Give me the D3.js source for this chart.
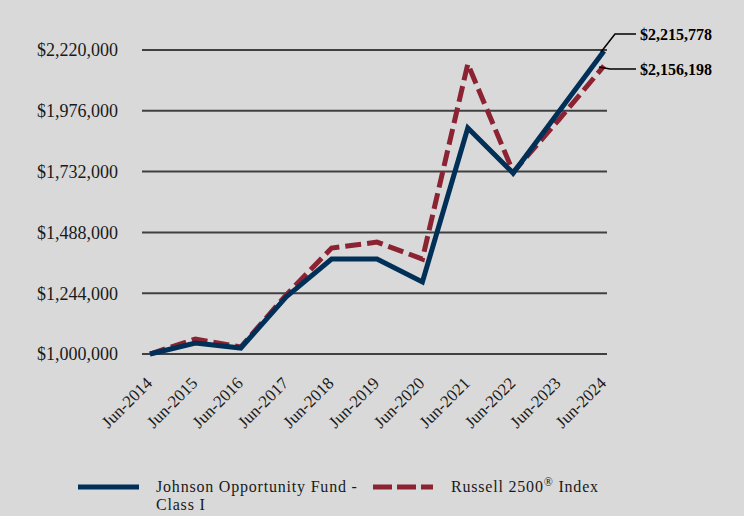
<!DOCTYPE html>
<html>
<head>
<meta charset="utf-8">
<script src="https://cdn.jsdelivr.net/npm/d3@7"></script>
<style>
  body { margin: 0; background: #d9d9d9; }
  svg { display: block; background: #d9d9d9; font-family: "Liberation Serif", "DejaVu Serif", serif; }
</style>
</head>
<body>
<svg width="744" height="516"></svg>
<script>
// data
const years = ["Jun-2014", "Jun-2015", "Jun-2016", "Jun-2017", "Jun-2018", "Jun-2019",
  "Jun-2020", "Jun-2021", "Jun-2022", "Jun-2023", "Jun-2024"];
const fund = [1000000, 1044000, 1024000, 1229000, 1381000, 1381000, 1289000, 1907000, 1726000, 1971000, 2215778];
const russell = [1000000, 1060000, 1028000, 1237000, 1425000, 1449000, 1381000, 2164000, 1730000, 1939000, 2156198];
const ticks = [1000000, 1244000, 1488000, 1732000, 1976000, 2220000];

const svg = d3.select("svg");
const margin = { left: 142, right: 137, top: 50, bottom: 162 };

const x = d3.scalePoint()
    .domain(years)
    .range([150, 604]);

const y = d3.scaleLinear()
    .domain([1000000, 2220000])
    .range([354, 50]);

const fmt = d3.format("$,");

// gridlines
svg.append("g")
    .selectAll("line")
    .data(ticks)
    .enter().append("line")
    .attr("x1", margin.left)
    .attr("x2", 607)
    .attr("y1", d => y(d))
    .attr("y2", d => y(d))
    .style("stroke", "#404040")
    .style("stroke-width", 2);

// y labels
svg.append("g")
    .selectAll("text")
    .data(ticks)
    .enter().append("text")
    .attr("x", 118)
    .attr("y", d => y(d))
    .attr("dy", "0.35em")
    .attr("text-anchor", "end")
    .style("font-size", "18px")
    .style("fill", "#1a1a1a")
    .text(d => fmt(d));

// x labels
svg.append("g")
    .selectAll("text")
    .data(years)
    .enter().append("text")
    .attr("transform", d => `translate(${x(d) - 1},${380}) rotate(-45)`)
    .attr("text-anchor", "end")
    .attr("dy", "0.35em")
    .style("font-size", "17px")
    .style("fill", "#1a1a1a")
    .text(d => d);

const line = d3.line()
    .x((d, i) => x(years[i]))
    .y(d => y(d));

svg.append("path")
    .datum(russell)
    .attr("d", line)
    .style("fill", "none")
    .style("stroke", "#8b2332")
    .style("stroke-width", 5)
    .style("stroke-dasharray", "16 6");

svg.append("path")
    .datum(fund)
    .attr("d", line)
    .style("fill", "none")
    .style("stroke", "#003057")
    .style("stroke-width", 5);

// end callouts
const lastX = x(years[years.length - 1]);
const callouts = [
    { v: fund[fund.length - 1], ly: 34, pts: [[lastX - 3, y(fund[fund.length - 1]) + 1], [615, 34], [636, 34]] },
    { v: russell[russell.length - 1], ly: 69, pts: [[lastX - 5, y(russell[russell.length - 1]) + 1], [610, 69], [636, 69]] }
];
callouts.forEach(c => {
    svg.append("path")
        .attr("d", d3.line()(c.pts))
        .style("fill", "none")
        .style("stroke", "#000")
        .style("stroke-width", 1.5);
    svg.append("text")
        .attr("x", 640)
        .attr("y", c.ly)
        .attr("dy", "0.35em")
        .style("font-size", "16px")
        .style("font-weight", "bold")
        .style("fill", "#000")
        .text(fmt(c.v));
});

// legend
const lg = svg.append("g")
    .style("font-size", "16px")
    .style("letter-spacing", "0.8px")
    .style("fill", "#1a1a1a");
lg.append("line")
    .attr("x1", 78).attr("x2", 139).attr("y1", 487).attr("y2", 487)
    .style("stroke", "#003057").style("stroke-width", 5);
lg.append("text")
    .attr("x", 156).attr("y", 492)
    .text("Johnson Opportunity Fund -");
lg.append("text")
    .attr("x", 156).attr("y", 510)
    .text("Class I");
lg.append("line")
    .attr("x1", 373).attr("x2", 433).attr("y1", 487).attr("y2", 487)
    .style("stroke", "#8b2332").style("stroke-width", 5)
    .style("stroke-dasharray", "19 5");
const rt = lg.append("text")
    .attr("x", 451).attr("y", 492);
rt.append("tspan").text("Russell 2500");
rt.append("tspan").attr("dy", "-6").style("font-size", "12px").text("\u00AE");
rt.append("tspan").attr("dy", "6").text(" Index");
</script>
</body>
</html>
